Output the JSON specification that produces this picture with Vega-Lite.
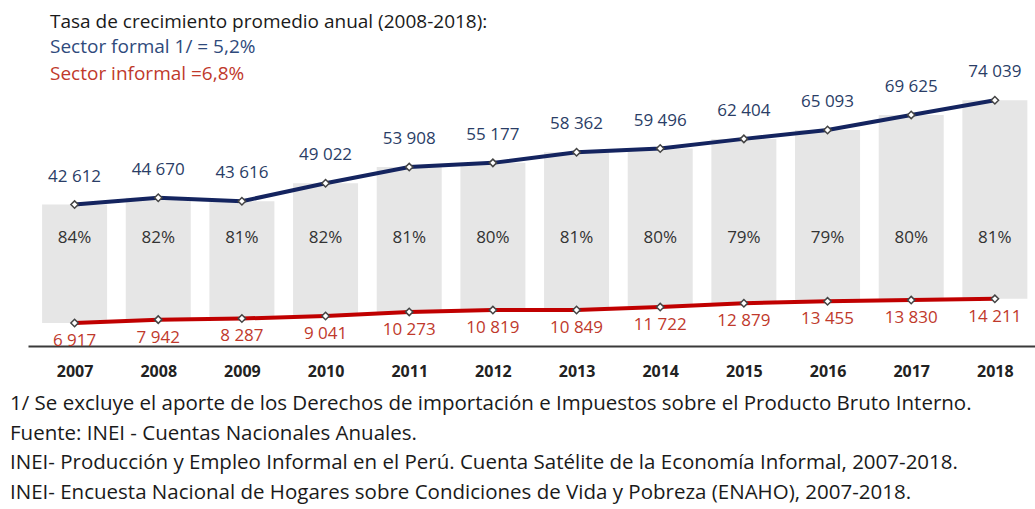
{
  "$schema": "https://vega.github.io/schema/vega-lite/v6.json",
  "autosize": {"type": "none"},
  "width": 1007,
  "height": 336,
  "padding": {"top": 10, "left": 28, "right": 0, "bottom": 163},
  "background": "white",
  "config": {
    "view": {"stroke": null},
    "font": "Open Sans",
    "locale": {"number": {"decimal": ",", "thousands": " ", "grouping": [3], "currency": ["", ""]}}
  },
  "title": {
    "text": "1/ Se excluye el aporte de los Derechos de importación e Impuestos sobre el Producto Bruto Interno.",
    "subtitle": [
      "Fuente: INEI - Cuentas Nacionales Anuales.",
      "INEI- Producción y Empleo Informal en el Perú. Cuenta Satélite de la Economía Informal, 2007-2018.",
      "INEI- Encuesta Nacional de Hogares sobre Condiciones de Vida y Pobreza (ENAHO), 2007-2018."
    ],
    "orient": "bottom",
    "anchor": "start",
    "dx": -18,
    "offset": 15,
    "font": "Open Sans",
    "fontSize": 20.5,
    "fontWeight": "normal",
    "color": "#1a1a1a",
    "subtitleFont": "Open Sans",
    "subtitleFontSize": 20.5,
    "subtitleColor": "#1a1a1a",
    "subtitleLineHeight": 29.5,
    "subtitlePadding": 9,
    "limit": 1100
  },
  "data": {
    "values": [
      {"year": 2007, "formal": 42612, "informal": 6917, "pct": 0.84},
      {"year": 2008, "formal": 44670, "informal": 7942, "pct": 0.82},
      {"year": 2009, "formal": 43616, "informal": 8287, "pct": 0.81},
      {"year": 2010, "formal": 49022, "informal": 9041, "pct": 0.82},
      {"year": 2011, "formal": 53908, "informal": 10273, "pct": 0.81},
      {"year": 2012, "formal": 55177, "informal": 10819, "pct": 0.80},
      {"year": 2013, "formal": 58362, "informal": 10849, "pct": 0.81},
      {"year": 2014, "formal": 59496, "informal": 11722, "pct": 0.80},
      {"year": 2015, "formal": 62404, "informal": 12879, "pct": 0.79},
      {"year": 2016, "formal": 65093, "informal": 13455, "pct": 0.79},
      {"year": 2017, "formal": 69625, "informal": 13830, "pct": 0.80},
      {"year": 2018, "formal": 74039, "informal": 14211, "pct": 0.81}
    ]
  },
  "encoding": {
    "x": {
      "field": "year",
      "type": "quantitative",
      "scale": {"domain": [2006.503, 2018.42], "nice": false, "zero": false},
      "axis": {
        "title": null,
        "values": [2007, 2008, 2009, 2010, 2011, 2012, 2013, 2014, 2015, 2016, 2017, 2018],
        "format": "d",
        "grid": false,
        "ticks": false,
        "tickSize": 0,
        "domain": true,
        "domainColor": "#3a3a3a",
        "domainWidth": 2,
        "labelFont": "Open Sans",
        "labelFontSize": 16,
        "labelFontWeight": "bold",
        "labelColor": "#222222",
        "labelPadding": 17
      }
    }
  },
  "layer": [
    {
      "mark": {"type": "bar", "width": 65, "color": "#e6e6e6"},
      "encoding": {
        "y": {"field": "informal", "type": "quantitative", "scale": {"domain": [0, 101235], "nice": false}, "axis": null},
        "y2": {"field": "formal"}
      }
    },
    {
      "mark": {"type": "text", "fontSize": 17, "color": "#333333", "font": "Open Sans"},
      "encoding": {
        "y": {"datum": 32500, "type": "quantitative"},
        "text": {"field": "pct", "type": "quantitative", "format": ".0%"}
      }
    },
    {
      "mark": {"type": "line", "strokeWidth": 4},
      "encoding": {
        "y": {"field": "formal", "type": "quantitative"},
        "color": {
          "datum": "Sector formal 1/ = 5,2%",
          "scale": {"domain": ["Sector formal 1/ = 5,2%", "Sector informal =6,8%"], "range": ["#14245f", "#c00000"]},
          "legend": {
            "orient": "none",
            "legendX": 22,
            "legendY": 3,
            "direction": "vertical",
            "title": "Tasa de crecimiento promedio anual (2008-2018):",
            "titleFont": "Open Sans",
            "titleFontSize": 19,
            "titleFontWeight": "normal",
            "titleColor": "#1a1a1a",
            "titleLimit": 800,
            "titlePadding": 5,
            "labelFont": "Open Sans",
            "labelFontSize": 19,
            "labelLimit": 600,
            "labelOffset": -19,
            "symbolSize": 0,
            "symbolOpacity": 0,
            "symbolStrokeWidth": 0,
            "rowPadding": 7,
            "encode": {
              "labels": {"update": {"fill": {"signal": "datum.value === 'Sector informal =6,8%' ? '#c0392b' : '#2f4a7c'"}}}
            }
          }
        }
      }
    },
    {
      "mark": {"type": "line", "strokeWidth": 4},
      "encoding": {
        "y": {"field": "informal", "type": "quantitative"},
        "color": {"datum": "Sector informal =6,8%"}
      }
    },
    {
      "mark": {"type": "point", "shape": "diamond", "size": 55, "filled": true, "fill": "white", "stroke": "#444444", "strokeWidth": 1.5, "opacity": 1},
      "encoding": {"y": {"field": "formal", "type": "quantitative"}}
    },
    {
      "mark": {"type": "point", "shape": "diamond", "size": 55, "filled": true, "fill": "white", "stroke": "#444444", "strokeWidth": 1.5, "opacity": 1},
      "encoding": {"y": {"field": "informal", "type": "quantitative"}}
    },
    {
      "mark": {"type": "text", "fontSize": 17, "dy": -28, "color": "#2a3d66", "font": "Open Sans"},
      "encoding": {
        "y": {"field": "formal", "type": "quantitative"},
        "text": {"field": "formal", "type": "quantitative", "format": ",d"}
      }
    },
    {
      "mark": {"type": "text", "fontSize": 17, "dy": 18, "color": "#c0392b", "font": "Open Sans"},
      "encoding": {
        "y": {"field": "informal", "type": "quantitative"},
        "text": {"field": "informal", "type": "quantitative", "format": ",d"}
      }
    }
  ]
}
